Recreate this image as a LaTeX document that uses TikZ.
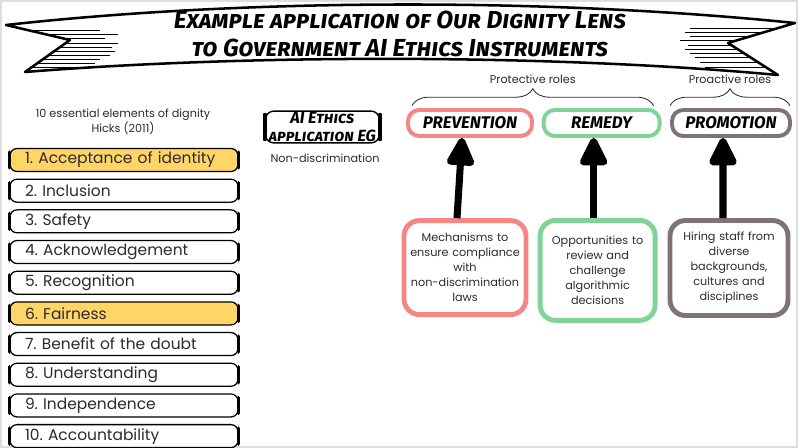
\documentclass[tikz,border=0pt]{standalone}
\usepackage{fontspec}
\setmainfont{Poppins}
\newfontfamily\handfont{Fira Sans}
\usepackage{xcolor}
\definecolor{HighlightYellow}{RGB}{255,214,102}
\definecolor{RolePink}       {RGB}{244,134,134}
\definecolor{RoleGreen}      {RGB}{128,212,152}
\definecolor{RoleTaupe}      {RGB}{126,116,118}
\definecolor{FrameGray}      {RGB}{222,222,222}
\definecolor{InkGray}        {RGB}{45, 40,  50}
\usetikzlibrary{
  arrows.meta,
  positioning,
  decorations.pathreplacing
}

\begin{document}
\begin{tikzpicture}[
  font=\fontsize{8}{10.7}\selectfont,
  element/.style={
    draw=black, line width=0.9pt, rounded corners=5pt,
    minimum height=0.575cm, text width=4.95cm,
    inner xsep=0.375cm, inner ysep=0pt,
    align=left, font=\fontsize{11}{13}\selectfont, text=InkGray
  },
  bracket/.style={line width=2.6pt, line cap=round},
  role/.style={
    rounded corners=8pt, line width=2.8pt, minimum height=0.65cm,
    font=\handfont\bfseries\itshape\fontsize{12}{14}\selectfont
  },
  note/.style={
    rounded corners=11pt, line width=3.5pt, align=center,
    font=\fontsize{8}{10.7}\selectfont, text=InkGray
  },
  push/.style={line width=5pt, -{Triangle[width=21pt,length=23pt,round]}},
  roles/.style={decorate, decoration={brace, amplitude=12pt}, line width=0.6pt, InkGray},
  caption/.style={font=\fontsize{8}{10.7}\selectfont, text=InkGray, align=center}
]
\useasboundingbox (0,0) rectangle (20,-11.2);
\draw[FrameGray, line width=1.5pt] (0.03,-0.03) rectangle (19.93,-11.17);

% Banner
\draw[line width=1.8pt, line join=round, fill=white]
  (0.15,-0.625) .. controls (6.25,0.05) and (13.75,0.05) .. (19.875,-0.575)
  -- (18.2,-1.075) -- (19.45,-1.875)
  .. controls (13.75,-1.35) and (6.25,-1.35) .. (0.625,-1.8)
  -- (1.75,-1.0) -- cycle;
\foreach \y/\a/\b in {0.75/0.675/2.5, 0.85/1.1/2.95, 0.95/1.525/2.625,
  1.075/1.65/2.95, 1.175/1.525/2.8, 1.275/1.375/2.875, 1.375/1.225/2.75,
  1.475/1.1/2.5, 1.575/0.95/2.375, 1.675/0.8/2.25} {
  \draw[line width=0.6pt] (\a,-\y) -- (\b,-\y);
}
\foreach \y/\a/\b in {0.7/17.25/19.45, 0.8/17.125/19.125, 0.9/17.25/18.775,
  1.0/17.0/18.45, 1.125/17.2/18.275, 1.225/17.125/18.425, 1.325/17.25/18.6,
  1.425/17.375/18.75, 1.55/17.5/18.95, 1.675/17.625/19.125} {
  \draw[line width=0.6pt] (\a,-\y) -- (\b,-\y);
}
\node[font=\handfont\bfseries\itshape\scshape\fontsize{17.5}{20}\selectfont, align=center]
  (title) at (10,-0.85)
  {Example application of Our Dignity Lens\\to Government AI Ethics Instruments};

% Elements of dignity
\node[caption] (hicks) at (3.075,-3.05) {10 essential elements of dignity\\Hicks (2011)};
\foreach \n/\t/\c in {1/Acceptance of identity/HighlightYellow, 2/Inclusion/white,
  3/Safety/white, 4/Acknowledgement/white, 5/Recognition/white,
  6/Fairness/HighlightYellow, 7/Benefit of the doubt/white,
  8/Understanding/white, 9/Independence/white, 10/Accountability/white} {
  \node[element, fill=\c] (el\n) at (3.1,{-4-(\n-1)*0.767}) {\n.~\t};
  \draw[bracket] ([yshift=-3pt]el\n.north west) -- ([yshift=3pt]el\n.south west);
  \draw[bracket] ([yshift=-3pt]el\n.north east) -- ([yshift=3pt]el\n.south east);
}

% Application example
\node[draw, line width=1pt, rounded corners=6pt, minimum width=2.85cm,
  minimum height=0.75cm, inner sep=1pt, align=center,
  font=\handfont\bfseries\itshape\scshape\fontsize{11.5}{12.5}\selectfont]
  (aiapp) at (8.06,-3.175) {AI Ethics\\application EG};
\draw[bracket] ([yshift=-3pt]aiapp.north west) -- ([yshift=3pt]aiapp.south west);
\draw[bracket] ([yshift=-3pt]aiapp.north east) -- ([yshift=3pt]aiapp.south east);
\node[font=\fontsize{8}{10.7}\selectfont, text=InkGray] (nondisc) at (8.125,-3.95) {Non-discrimination};

% Roles
\node[role, draw=RolePink,  minimum width=3.1cm]  (prev)   at (11.75,-3.075)  {PREVENTION};
\node[role, draw=RoleGreen, minimum width=2.9cm]  (remedy) at (15.04,-3.075)  {REMEDY};
\node[role, draw=RoleTaupe, minimum width=2.95cm] (promo)  at (18.275,-3.075) {PROMOTION};

\draw[roles] ([xshift=0.15cm,yshift=0.06cm]prev.north west)
  -- ([xshift=-0.2cm,yshift=0.06cm]remedy.north east)
  node[midway, above=12pt, caption] (protect) {Protective roles};
\draw[roles] ([yshift=0.06cm]promo.north west)
  -- ([xshift=-0.05cm,yshift=0.06cm]promo.north east)
  node[midway, above=12pt, caption] (proact) {Proactive roles};

% Examples
\node[note, draw=RolePink, minimum width=3.05cm, minimum height=2.35cm, text width=2.8cm]
  (mech) at (11.625,-6.69)
  {Mechanisms to\\ensure compliance\\with\\non-discrimination\\laws};
\node[note, draw=RoleGreen, minimum width=2.875cm, minimum height=2.5cm, text width=2.6cm]
  (chall) at (14.94,-6.76)
  {Opportunities to\\review and\\challenge\\algorithmic\\decisions};
\node[note, draw=RoleTaupe, minimum width=2.95cm, minimum height=2.375cm, text width=2.7cm]
  (hire) at (18.225,-6.7)
  {Hiring staff from\\diverse\\backgrounds,\\cultures and\\disciplines};

\draw[push] ([xshift=-0.2cm]mech.north)  -- ([xshift=-0.2cm]prev.south);
\draw[push] ([xshift=-0.1cm]chall.north) -- ([xshift=-0.2cm]remedy.south);
\draw[push] ([xshift=-0.15cm]hire.north) -- ([xshift=-0.2cm]promo.south);
\end{tikzpicture}
\end{document}
